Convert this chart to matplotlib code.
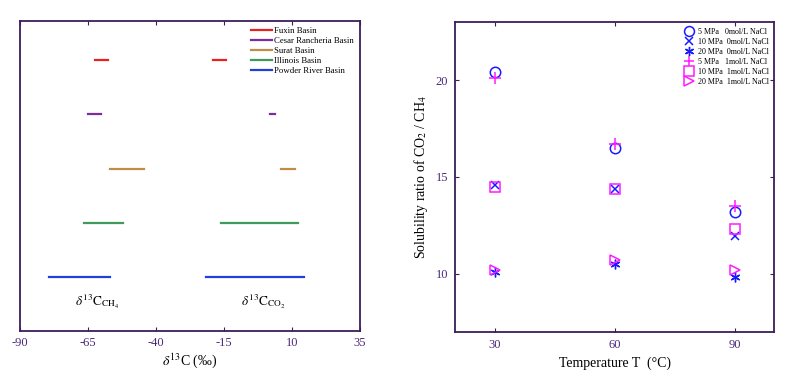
import numpy as np
import matplotlib.pyplot as plt

plt.rcParams['font.family'] = ['Liberation Serif', 'DejaVu Serif']
plt.rcParams['mathtext.fontset'] = 'stix'
plt.rcParams['axes.unicode_minus'] = False

# left panel: d13C ranges per basin
basins = ['Fuxin Basin', 'Cesar Rancheria Basin', 'Surat Basin', 'Illinois Basin', 'Powder River Basin']
basin_colors = ['#e8231f', '#7d2c9e', '#c08d48', '#3f9a5c', '#2140d8']
basin_rows = [5, 4, 3, 2, 1]
ch4_lo = [-62.5, -65, -57, -66.5, -79.5]
ch4_hi = [-57.5, -60.3, -44.5, -52, -57]
co2_lo = [-19.2, 2, 6, -16, -21.5]
co2_hi = [-14.3, 3.6, 11, 12.2, 14.5]

# right panel: solubility ratio CO2/CH4
temps = [30, 60, 90]
r_5_0 = [20.4, 16.5, 13.2]
r_10_0 = [14.6, 14.35, 11.95]
r_20_0 = [10.1, 10.5, 9.85]
r_5_1 = [20.1, 16.7, 13.5]
r_10_1 = [14.5, 14.4, 12.3]
r_20_1 = [10.2, 10.7, 10.2]

spine_c = '#3b1d5a'
tick_c = '#4a2a78'
blue = '#1a1aff'
pink = '#ff1aff'

fig = plt.figure(figsize=(8, 3.85), dpi=100)
ax1 = fig.add_axes([0.025, 0.140, 0.425, 0.805])
ax2 = fig.add_axes([0.569, 0.138, 0.399, 0.805])

for name, c, y, a, b, d, e in zip(basins, basin_colors, basin_rows, ch4_lo, ch4_hi, co2_lo, co2_hi):
    ax1.plot([a, b], [y, y], color=c, lw=1.6, label=name)
    ax1.plot([d, e], [y, y], color=c, lw=1.6)

ax1.text(-61.5, 0.53, r'$\delta^{13}\mathrm{C}_{\mathrm{CH}_4}$', ha='center', va='center', fontsize=9.5)
ax1.text(-0.5, 0.53, r'$\delta^{13}\mathrm{C}_{\mathrm{CO}_2}$', ha='center', va='center', fontsize=9.5)
ax1.set_xlim(-90, 35)
ax1.set_ylim(0, 5.72)
ax1.set_xticks([-90, -65, -40, -15, 10, 35])
ax1.set_yticks([])
ax1.set_xlabel(r'$\delta^{13}$C (‰)', fontsize=10, labelpad=2)
ax1.tick_params(axis='x', direction='in', top=True, length=3, colors=spine_c, labelcolor=tick_c, labelsize=9, pad=4)
ax1.legend(loc='upper right', frameon=False, fontsize=6.3, handlelength=2.3, handletextpad=0.3,
           labelspacing=0.2, borderaxespad=0.3)

ax2.plot(temps, r_5_0, 'o', ms=7.5, mfc='none', mec=blue, mew=1.1, ls='none', label='5 MPa   0mol/L NaCl')
ax2.plot(temps, r_10_0, 'x', ms=6, mec=blue, mew=1.1, ls='none', label='10 MPa  0mol/L NaCl')
ax2.plot(temps, r_20_0, marker=(6, 2, 0), ms=7, mec=blue, mew=1.0, ls='none', label='20 MPa  0mol/L NaCl')
ax2.plot(temps, r_5_1, '+', ms=8, mec=pink, mew=1.1, ls='none', label='5 MPa   1mol/L NaCl')
ax2.plot(temps, r_10_1, 's', ms=7, mfc='none', mec=pink, mew=1.1, ls='none', label='10 MPa  1mol/L NaCl')
ax2.plot(temps, r_20_1, '>', ms=7.5, mfc='none', mec=pink, mew=1.1, ls='none', label='20 MPa  1mol/L NaCl')
ax2.set_xlim(20, 100)
ax2.set_ylim(7, 23)
ax2.set_xticks(temps)
ax2.set_yticks([10, 15, 20])
ax2.set_xlabel('Temperature T  (°C)', fontsize=10, labelpad=4)
ax2.set_ylabel(r'Solubility ratio of CO$_2$ / CH$_4$', fontsize=10, labelpad=4)
ax2.tick_params(direction='in', top=True, right=True, length=3, colors=spine_c, labelcolor=tick_c, labelsize=9, pad=5)
ax2.legend(loc='upper right', frameon=False, fontsize=5.8, handlelength=1.0, handletextpad=0.6,
           labelspacing=0.25, borderaxespad=0.3, markerscale=0.95)

for ax in (ax1, ax2):
    for s in ax.spines.values():
        s.set_color(spine_c)
        s.set_linewidth(1.3)

fig.savefig('out.png', dpi=100)
